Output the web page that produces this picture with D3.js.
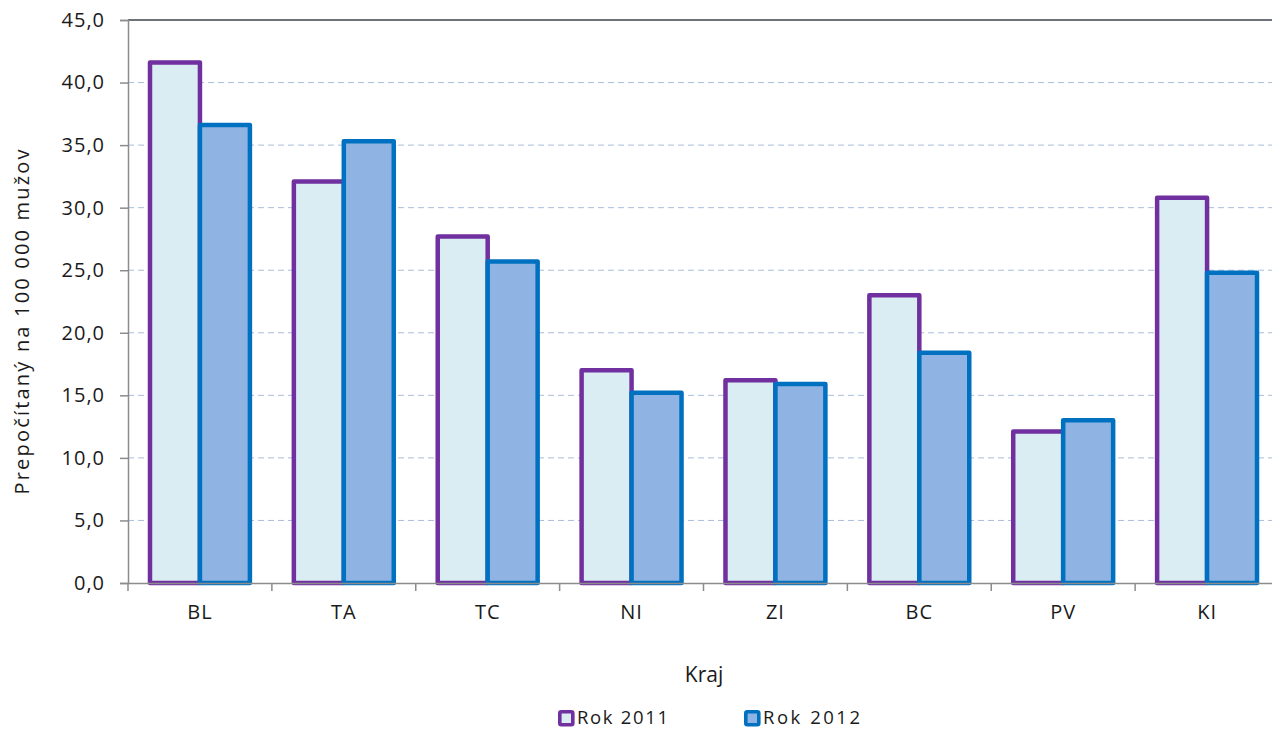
<!DOCTYPE html>
<html>
<head>
<meta charset="utf-8">
<script src="https://cdn.jsdelivr.net/npm/d3@7"></script>
<style>
  body { margin: 0; background: #fff; }
  text { font-family: "Open Sans", "Noto Sans", sans-serif; fill: #1a1a1a; }
</style>
</head>
<body>
<svg id="chart" width="1272" height="731"></svg>
<script>
// data
var categories = ['BL', 'TA', 'TC', 'NI', 'ZI', 'BC', 'PV', 'KI'];
var series2011 = [41.6, 32.1, 27.7, 17.0, 16.2, 23.0, 12.1, 30.8];
var series2012 = [36.6, 35.3, 25.7, 15.2, 15.9, 18.4, 13.0, 24.8];
var seriesNames = ['Rok 2011', 'Rok 2012'];
var yTicks = [0, 5, 10, 15, 20, 25, 30, 35, 40, 45];

var strokes = ['#7030a0', '#0070c0'];
var fills = ['#daedf3', '#8fb4e3'];

var svg = d3.select('#chart');
var plotL = 128, plotR = 1279, plotT = 20, plotB = 583;

var x = d3.scaleBand().domain(categories).range([plotL, plotR]).paddingInner(0).paddingOuter(0);
var xs = d3.scaleBand().domain([0, 1]).range([0, x.bandwidth()]).paddingOuter(0.44).paddingInner(0);
var y = d3.scaleLinear().domain([0, 45]).range([plotB, plotT]);

// grid
svg.append('g').selectAll('line')
  .data(yTicks.filter(function(d) { return d > 0 && d < 45; }))
  .enter().append('line')
  .attr('x1', plotL).attr('x2', plotR)
  .attr('y1', function(d) { return y(d); }).attr('y2', function(d) { return y(d); })
  .attr('stroke', '#a9bddb').attr('stroke-width', 1).attr('stroke-dasharray', '6,4');

svg.append('line')
  .attr('x1', plotL).attr('x2', plotR).attr('y1', y(45)).attr('y2', y(45))
  .attr('stroke', '#3d444c').attr('stroke-width', 1.3);

// y axis
var yAxis = svg.append('g').attr('transform', 'translate(' + plotL + ',0)')
  .call(d3.axisLeft(y).tickValues(yTicks).tickSize(8).tickPadding(15)
    .tickFormat(function(d) { return d3.format('.1f')(d).replace('.', ','); }));
yAxis.select('.domain').attr('stroke', '#8c8c8c').attr('stroke-width', 1.5);
yAxis.selectAll('.tick line').attr('stroke', '#8c8c8c').attr('stroke-width', 1.5);
yAxis.selectAll('.tick text').style('font-size', '20px').style('letter-spacing', '1px').attr('fill', '#1a1a1a');

// bars
var series = [series2011, series2012];
series.forEach(function(vals, si) {
  svg.append('g').selectAll('rect')
    .data(vals)
    .enter().append('rect')
    .attr('x', function(d, i) { return x(categories[i]) + xs(si); })
    .attr('width', xs.bandwidth())
    .attr('y', function(d) { return y(d); })
    .attr('height', function(d) { return y(0) - y(d); })
    .attr('fill', fills[si])
    .attr('stroke', strokes[si])
    .attr('stroke-width', 4.5)
    .attr('stroke-linejoin', 'round');
});

// x axis
var xAxis = svg.append('g').attr('transform', 'translate(0,' + plotB + ')')
  .call(d3.axisBottom(x).tickSize(0).tickPadding(22));
xAxis.select('.domain').attr('stroke', '#8c8c8c').attr('stroke-width', 1.5);
xAxis.selectAll('.tick text').style('font-size', '20px').style('letter-spacing', '1px').attr('fill', '#1a1a1a');
svg.append('g').selectAll('line')
  .data(categories)
  .enter().append('line')
  .attr('x1', function(d) { return x(d); }).attr('x2', function(d) { return x(d); })
  .attr('y1', plotB).attr('y2', plotB + 8)
  .attr('stroke', '#8c8c8c').attr('stroke-width', 1.5);

// titles
svg.append('text').attr('x', 704).attr('y', 682).attr('text-anchor', 'middle')
  .style('font-size', '21px').text('Kraj');
svg.append('text').attr('transform', 'translate(29,322) rotate(-90)').attr('text-anchor', 'middle')
  .style('font-size', '20px').attr('textLength', 345).attr('lengthAdjust', 'spacing')
  .text('Prepočítaný na 100 000 mužov');

// legend
var legendX = [558, 744];
seriesNames.forEach(function(name, i) {
  var g = svg.append('g').attr('transform', 'translate(' + legendX[i] + ',710)');
  g.append('rect').attr('x', 1.8).attr('y', 1.8).attr('width', 13).attr('height', 13).attr('rx', 1.5)
    .attr('fill', fills[i]).attr('stroke', strokes[i]).attr('stroke-width', 3.6);
  g.append('text').attr('x', 19).attr('y', 14).style('font-size', '18.5px')
    .attr('textLength', i === 0 ? 91 : 97).attr('lengthAdjust', 'spacing').text(name);
});
</script>
</body>
</html>
